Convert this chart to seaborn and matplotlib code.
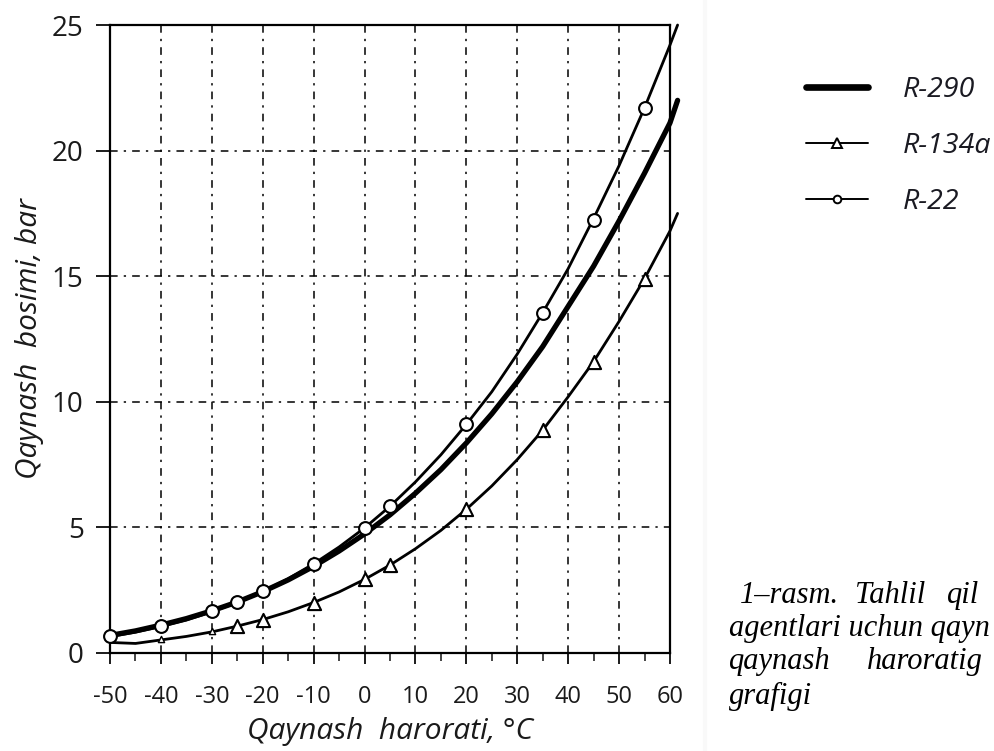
import numpy as np
import pandas as pd
import matplotlib
matplotlib.use("Agg")
import matplotlib.pyplot as plt
from matplotlib.lines import Line2D
from matplotlib.ticker import MultipleLocator
import seaborn as sns

# Qaynash harorati (°C) - egri chiziqlar uchun
harorat = [-50, -45, -40, -35, -30, -25, -20, -15, -10, -5, 0, 5, 10, 15,
           20, 25, 30, 35, 40, 45, 50, 55, 60, 61.5]

# Qaynash bosimi (bar), rasmdan o'qilgan
r290 = [0.70, 0.88, 1.11, 1.37, 1.68, 2.03, 2.44, 2.91, 3.45, 4.06, 4.74, 5.50,
        6.36, 7.30, 8.36, 9.52, 10.8, 12.2, 13.8, 15.4, 17.2, 19.1, 21.1, 22.0]
r134a = [0.42, 0.38, 0.52, 0.66, 0.84, 1.07, 1.33, 1.64, 2.01, 2.43, 2.93, 3.50,
         4.15, 4.88, 5.72, 6.65, 7.70, 8.87, 10.2, 11.6, 13.2, 14.9, 16.8, 17.5]
r22 = [0.65, 0.83, 1.05, 1.31, 1.64, 2.01, 2.45, 2.96, 3.55, 4.22, 4.98, 5.84,
       6.81, 7.89, 9.10, 10.4, 11.9, 13.55, 15.3, 17.3, 19.4, 21.7, 24.2, 25.0]

# Belgilar (markerlar) joylashuvi
r22_mk_t = [-50, -40, -30, -25, -20, -10, 0, 5, 20, 35, 45, 55]
r22_mk_p = [0.67, 1.07, 1.66, 2.03, 2.45, 3.55, 4.98, 5.84, 9.10, 13.55, 17.25, 21.7]
r134a_mk_t = [-25, -20, -10, 0, 5, 20, 35, 45, 55]
r134a_mk_p = [1.07, 1.33, 2.01, 2.93, 3.50, 5.72, 8.87, 11.6, 14.9]
r134a_small_t = [-40, -30]
r134a_small_p = [0.55, 0.86]

df = pd.DataFrame({"t": harorat, "R-290": r290, "R-134a": r134a, "R-22": r22})

sns.set_style("white")
plt.rcParams["font.family"] = ["Open Sans", "DejaVu Sans"]
plt.rcParams["axes.unicode_minus"] = False

fig = plt.figure(figsize=(9.94, 7.51), dpi=100)
ax = fig.add_axes([0.1107, 0.1305, 0.5633, 0.8362])

# Setka
grid_ls = (0, (5, 4, 1.5, 4))
for x in range(-40, 60, 10):
    ax.axvline(x, color="black", lw=1.1, ls=grid_ls, zorder=1)
for y in range(5, 25, 5):
    ax.axhline(y, color="black", lw=1.1, ls=grid_ls, zorder=1)

# Egri chiziqlar
sns.lineplot(data=df, x="t", y="R-290", ax=ax, color="black", lw=3.8,
             clip_on=False, zorder=3)
sns.lineplot(data=df, x="t", y="R-134a", ax=ax, color="black", lw=2.0,
             clip_on=False, zorder=3)
sns.lineplot(data=df, x="t", y="R-22", ax=ax, color="black", lw=2.0,
             clip_on=False, zorder=3)

sns.scatterplot(x=r22_mk_t, y=r22_mk_p, ax=ax, marker="o", s=85,
                facecolor="white", edgecolor="black", linewidth=1.5,
                clip_on=False, zorder=4)
sns.scatterplot(x=r134a_mk_t, y=r134a_mk_p, ax=ax, marker="^", s=90,
                facecolor="white", edgecolor="black", linewidth=1.5,
                clip_on=False, zorder=4)
sns.scatterplot(x=r134a_small_t, y=r134a_small_p, ax=ax, marker="^", s=20,
                facecolor="white", edgecolor="black", linewidth=1.0,
                clip_on=False, zorder=4)

ax.set_xlim(-50, 60)
ax.set_ylim(0, 25)
ax.xaxis.set_major_locator(MultipleLocator(10))
ax.xaxis.set_minor_locator(MultipleLocator(5))
ax.yaxis.set_major_locator(MultipleLocator(5))

for s in ax.spines.values():
    s.set_color("black")
    s.set_linewidth(1.6)

ax.tick_params(axis="x", which="major", direction="out", length=8, width=1.4,
               pad=15, labelsize=17, colors="#1a1a1a", bottom=True)
ax.tick_params(axis="x", which="minor", direction="out", length=6, width=1.2,
               bottom=True)
ax.tick_params(axis="y", which="major", direction="out", length=10, width=1.4,
               pad=9, labelsize=20, colors="#1a1a1a", left=True)

ax.set_xlabel("Qaynash  harorati, °C", fontsize=21.5, style="italic",
              labelpad=6, color="#1a1a1a")
ax.set_ylabel("Qaynash  bosimi, bar", fontsize=21.5, style="italic",
              labelpad=6, color="#1a1a1a")

# Legenda
handles = [
    Line2D([], [], color="black", lw=4.8, solid_capstyle="round"),
    Line2D([], [], color="black", lw=1.4, marker="^", markersize=7,
           markerfacecolor="white", markeredgecolor="black", markeredgewidth=1.4),
    Line2D([], [], color="black", lw=1.4, marker="o", markersize=5.5,
           markerfacecolor="white", markeredgecolor="black", markeredgewidth=1.4),
]
fig.legend(handles, ["R-290", "R-134a", "R-22"], loc="upper left",
           bbox_to_anchor=(0.799, 0.914), frameon=False,
           prop={"family": "Open Sans", "style": "italic", "size": 20.5},
           handlelength=2.2, handletextpad=1.2, labelspacing=0.98,
           labelcolor="#1a1a22", borderaxespad=0)

# Izoh maydonining chegarasi (juda xira)
fig.add_artist(Line2D([0.709, 0.709], [0.0, 1.0], transform=fig.transFigure,
                      color="#f9f9f9", lw=3))

# Rasm izohi
cap = {"family": "Liberation Serif", "style": "italic", "size": 22,
       "color": "black", "va": "baseline"}
fig.text(0.744, 0.197, "1–rasm.", **cap)
fig.text(0.860, 0.197, "Tahlil", **cap)
fig.text(0.953, 0.197, "qil", **cap)
fig.text(0.733, 0.153, "agentlari uchun qayn", **cap)
fig.text(0.733, 0.109, "qaynash", **cap)
fig.text(0.872, 0.109, "haroratig", **cap)
fig.text(0.733, 0.063, "grafigi", **cap)

fig.savefig("out.png", dpi=100, facecolor="white")
